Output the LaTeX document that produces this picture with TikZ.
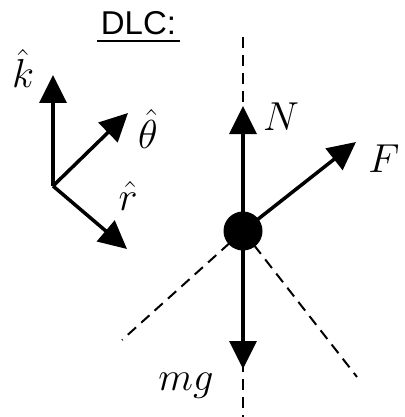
\documentclass[tikz,border=0pt]{standalone}
\usepackage{graphicx}
\usepackage{fontspec}
\newfontfamily\arialfont{Liberation Sans}
\usetikzlibrary{arrows.meta}
\newcommand{\biglab}[1]{\scalebox{1.95}{$#1$}}
\begin{document}
\begin{tikzpicture}[x=1pt,y=-1pt,
  vec/.style={line width=3.5pt,-{Triangle[length=28pt,width=27pt]}},
  dashline/.style={line width=2pt,dash pattern=on 11pt off 7pt},
  lab/.style={font=\fontsize{20.74}{24}\selectfont,inner sep=0pt,anchor=base}]
\useasboundingbox (0,0) rectangle (404,417);
% title
\node[inner sep=0pt,anchor=base,font=\arialfont\fontsize{33}{38}\selectfont] (title) at (138.5,35) {DLC:};
\draw[line width=2pt] (97,41) -- (180,41);
% frame
\coordinate (o) at (53,186);
\coordinate (kt) at (53,75);
\coordinate (tt) at (128,113);
\coordinate (rt) at (127,249);
\draw[vec] (o) -- (kt);
\draw[vec] (o) -- (tt);
\draw[vec] (o) -- (rt);
\node[lab] (klab) at (23,88) {\biglab{\hat{k}}};
\node[lab] (tlab) at (148,148) {\biglab{\hat{\theta}}};
\node[lab] (rlab) at (128,210) {\biglab{\hat{r}}};
% dashed axes
\coordinate (c) at (243,231);
\coordinate (vtop) at (243,37);
\coordinate (vbot) at (243,417);
\coordinate (dl) at (122,340);
\coordinate (dr) at (357,377);
\draw[dashline] (vtop) -- (vbot);
\draw[dashline] (c) -- (dl);
\draw[dashline] (c) -- (dr);
% forces
\coordinate (nt) at (243,106);
\coordinate (ft) at (356,142);
\coordinate (gt) at (243,369);
\draw[vec] (c) -- (nt);
\draw[vec] (c) -- (ft);
\draw[vec] (c) -- (gt);
\node[circle,fill=black,minimum size=39pt,inner sep=0pt] (dot) at (c) {};
\node[lab] (nlab) at (281,130) {\biglab{N}};
\node[lab] (flab) at (384,172) {\biglab{F}};
\node[lab] (glab) at (186,390) {\biglab{mg}};
\end{tikzpicture}
\end{document}
